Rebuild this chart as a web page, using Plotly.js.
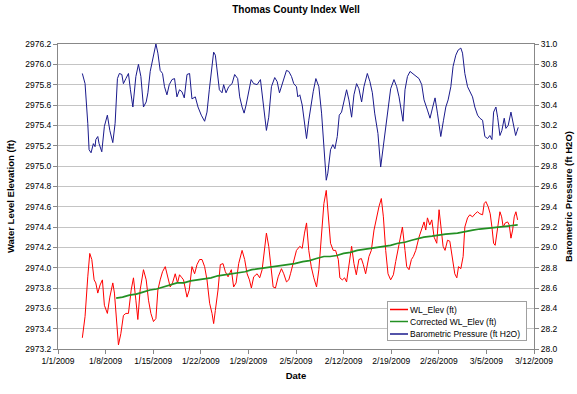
<!DOCTYPE html>
<html>
<head>
<meta charset="utf-8">
<script src="https://cdn.plot.ly/plotly-3.0.1.min.js"></script>
<style>html,body{margin:0;padding:0;background:#fff;}#chart{width:577px;height:394px;}</style>
</head>
<body>
<div id="chart"></div>
<script>
// Elapsed days since 2009-01-01 00:00 for each reading
const wlDays = [3.58,3.98,4.38,4.67,4.97,5.31,5.56,5.85,6.19,6.53,6.82,7.26,7.62,8.06,8.30,8.55,8.89,9.24,9.62,9.98,10.36,10.76,11.10,11.45,11.74,12.08,12.57,12.97,13.31,13.66,14.04,14.40,14.69,15.03,15.37,15.77,16.17,16.50,16.84,17.24,17.58,17.87,18.23,18.46,18.97,19.30,19.70,20.09,20.44,20.82,21.18,21.56,21.91,22.30,22.65,22.89,23.14,23.53,23.87,24.27,24.61,25.01,25.49,25.83,26.19,26.57,27.07,27.45,27.81,28.15,28.44,28.78,29.28,29.66,30.02,30.36,30.65,30.99,31.34,31.64,31.98,32.38,32.86,33.20,33.60,33.94,34.19,34.67,35.07,35.56,35.91,36.25,36.55,36.88,37.24,37.62,38.02,38.36,38.76,39.10,39.45,39.74,40.08,40.48,40.82,41.22,41.45,41.81,42.15,42.44,42.78,43.18,43.52,43.87,44.25,44.61,44.90,45.24,45.73,46.08,46.47,46.86,47.20,47.55,47.85,48.19,48.53,48.92,49.32,49.66,50.00,50.40,50.65,51.03,51.28,51.62,51.97,52.26,52.61,53.09,53.49,53.83,54.08,54.33,54.67,54.97,55.31,55.70,56.04,56.29,56.63,56.92,57.28,57.62,58.01,58.35,58.65,58.90,59.24,59.58,59.83,60.23,60.56,60.96,61.34,61.70,62.04,62.44,62.67,62.92,63.26,63.56,63.81,64.06,64.29,64.65,64.99,65.24,65.47,65.77,66.12,66.36,66.61,66.86,67.09,67.34,67.59];
const wlElev = [2973.31,2973.52,2973.91,2974.14,2974.08,2973.88,2973.85,2973.75,2973.83,2973.88,2973.63,2973.55,2973.71,2973.85,2973.75,2973.49,2973.24,2973.35,2973.53,2973.55,2973.55,2973.78,2973.90,2973.68,2973.49,2973.78,2973.98,2973.88,2973.68,2973.55,2973.47,2973.50,2973.78,2973.88,2973.96,2974.01,2973.91,2973.81,2973.85,2973.94,2973.85,2973.93,2973.90,2973.88,2973.71,2973.78,2974.01,2973.94,2974.03,2974.08,2974.08,2974.01,2973.88,2973.65,2973.55,2973.45,2973.58,2973.78,2974.03,2974.04,2973.96,2973.91,2973.98,2973.81,2973.85,2974.04,2974.17,2974.08,2973.94,2973.88,2973.80,2973.91,2973.94,2973.90,2973.98,2974.21,2974.34,2974.21,2973.98,2973.81,2973.80,2973.91,2973.99,2973.94,2973.86,2973.88,2973.94,2974.08,2974.17,2974.21,2974.19,2974.34,2974.44,2974.17,2974.01,2973.90,2973.81,2973.98,2974.34,2974.63,2974.76,2974.53,2974.24,2974.17,2974.17,2974.08,2973.90,2973.88,2973.90,2973.86,2974.01,2974.21,2974.04,2973.93,2974.08,2974.09,2974.03,2973.94,2974.11,2974.17,2974.37,2974.50,2974.60,2974.68,2974.50,2974.17,2973.94,2973.88,2973.93,2974.06,2974.17,2974.30,2974.40,2974.17,2974.01,2973.98,2974.08,2974.11,2974.17,2974.30,2974.37,2974.45,2974.37,2974.49,2974.42,2974.47,2974.30,2974.24,2974.57,2974.40,2974.21,2974.17,2974.27,2974.26,2974.08,2973.94,2973.90,2974.01,2973.99,2974.11,2974.40,2974.49,2974.52,2974.50,2974.53,2974.55,2974.53,2974.52,2974.63,2974.65,2974.60,2974.53,2974.40,2974.24,2974.22,2974.40,2974.55,2974.50,2974.40,2974.44,2974.45,2974.42,2974.29,2974.37,2974.50,2974.55,2974.47];

const corrDays = [8.55,9.5,10.5,11.5,12.5,13.5,14.5,15.5,16.5,17.5,18.5,19.5,20.5,21.5,22.5,23.5,24.6,25.5,26.5,27.5,28.5,29.5,30.5,31.5,32.5,33.5,34.8,36,37,38,39.1,40,41,42,43,44,45,46,47,48,48.9,50,51,52,53,53.8,55,56,57,58.75,60,61,62,63.7,65,66,67.6];
const corrElev = [2973.70,2973.71,2973.73,2973.74,2973.76,2973.78,2973.79,2973.81,2973.83,2973.85,2973.85,2973.87,2973.88,2973.89,2973.90,2973.92,2973.93,2973.94,2973.95,2973.96,2973.98,2973.99,2974.00,2974.01,2974.02,2974.03,2974.04,2974.06,2974.07,2974.09,2974.11,2974.11,2974.12,2974.14,2974.15,2974.17,2974.18,2974.19,2974.20,2974.21,2974.22,2974.24,2974.25,2974.27,2974.29,2974.30,2974.31,2974.32,2974.33,2974.34,2974.36,2974.37,2974.38,2974.39,2974.40,2974.41,2974.42];

const baroDays = [3.58,3.98,4.38,4.57,4.86,5.20,5.45,5.56,5.85,6.04,6.44,6.82,7.26,7.62,8.06,8.40,8.74,9.03,9.39,9.62,9.98,10.36,10.65,11.01,11.45,11.83,12.19,12.57,12.97,13.22,13.56,13.90,14.19,14.40,14.69,15.03,15.37,15.66,16.02,16.36,16.76,17.14,17.49,17.87,18.23,18.57,18.97,19.35,19.70,20.19,20.59,21.07,21.56,21.91,22.25,22.55,22.89,23.14,23.43,23.73,24.12,24.36,24.71,25.10,25.60,25.98,26.42,26.72,27.07,27.37,27.66,28.04,28.40,28.78,29.28,29.77,30.25,30.65,30.99,31.39,31.87,32.23,32.57,32.97,33.35,33.60,33.94,34.34,34.67,35.07,35.26,35.56,35.91,36.25,36.55,36.88,37.24,37.53,37.92,38.36,38.76,39.10,39.45,39.68,40.08,40.42,40.72,41.07,41.36,41.70,42.04,42.44,42.78,43.18,43.52,43.91,44.25,44.65,44.99,45.49,45.87,46.23,46.57,47.05,47.45,47.70,48.08,48.44,48.92,49.41,49.81,50.15,50.50,50.74,51.03,51.39,51.77,52.17,52.61,53.09,53.49,53.83,54.33,54.71,55.07,55.45,55.80,56.29,56.69,57.03,57.37,57.77,58.10,58.50,58.84,59.24,59.49,59.83,60.23,60.61,60.96,61.30,61.70,62.04,62.44,62.77,63.17,63.51,63.81,64.06,64.40,64.65,64.99,65.28,65.62,65.87,66.21,66.61,66.95,67.30,67.49,67.68];
const baroPress = [30.71,30.61,30.22,29.96,29.93,30.02,29.99,30.06,30.09,30.02,29.94,30.19,30.30,30.15,30.03,30.22,30.66,30.71,30.70,30.61,30.66,30.71,30.55,30.38,30.68,30.80,30.68,30.38,30.43,30.52,30.73,30.84,30.94,31.00,30.91,30.74,30.71,30.58,30.50,30.60,30.65,30.66,30.48,30.55,30.53,30.47,30.70,30.71,30.46,30.48,30.38,30.30,30.24,30.33,30.55,30.71,30.92,30.89,30.74,30.55,30.52,30.60,30.52,30.58,30.61,30.70,30.66,30.48,30.38,30.32,30.40,30.52,30.65,30.61,30.60,30.65,30.38,30.15,30.28,30.58,30.67,30.63,30.52,30.60,30.68,30.74,30.73,30.68,30.61,30.58,30.48,30.50,30.40,30.22,30.07,30.25,30.42,30.53,30.66,30.58,30.32,29.96,29.66,29.73,29.96,30.01,29.97,30.09,30.30,30.33,30.43,30.55,30.45,30.28,30.50,30.61,30.56,30.43,30.58,30.71,30.63,30.52,30.32,30.12,29.79,29.92,30.15,30.35,30.56,30.65,30.58,30.48,30.35,30.24,30.55,30.68,30.73,30.71,30.68,30.66,30.60,30.45,30.35,30.27,30.37,30.47,30.32,30.09,30.25,30.38,30.45,30.58,30.78,30.89,30.94,30.96,30.91,30.71,30.58,30.52,30.48,30.38,30.30,30.27,30.25,30.09,30.07,30.10,30.06,30.33,30.38,30.28,30.10,30.15,30.27,30.17,30.20,30.33,30.22,30.10,30.14,30.18];

const seriesNames = ['WL_Elev (ft)', 'Corrected WL_Elev (ft)', 'Barometric Pressure (ft H2O)'];
const seriesColors = ['#ff0000', '#239023', '#1a1a8c'];

function toDate(d) {
  const t = Date.UTC(2009, 0, 1) + d * 86400000;
  return new Date(t).toISOString().slice(0, 19).replace('T', ' ');
}

const FONT = 'Liberation Sans, Arial, sans-serif';

const traces = [
  {x: wlDays.map(toDate), y: wlElev, name: seriesNames[0], type: 'scatter', mode: 'lines',
   line: {color: seriesColors[0], width: 1}, yaxis: 'y'},
  {x: corrDays.map(toDate), y: corrElev, name: seriesNames[1], type: 'scatter', mode: 'lines',
   line: {color: seriesColors[1], width: 1.7}, yaxis: 'y'},
  {x: baroDays.map(toDate), y: baroPress, name: seriesNames[2], type: 'scatter', mode: 'lines',
   line: {color: seriesColors[2], width: 1}, yaxis: 'y2'}
];

const layout = {
  width: 577, height: 394,
  margin: {l: 58, r: 43, t: 44, b: 45},
  paper_bgcolor: '#ffffff', plot_bgcolor: '#ffffff',
  font: {family: FONT, size: 8.5, color: '#000'},
  showlegend: true,
  title: {text: '<b>Thomas County Index Well</b>', font: {family: FONT, size: 10, color: '#000'},
          x: 0.5, xref: 'paper', y: 1, yref: 'container', yanchor: 'top', pad: {t: 6}},
  xaxis: {
    type: 'date', range: ['2009-01-01', '2009-03-12'],
    tick0: '2009-01-01', dtick: 7 * 86400000, tickformat: '%-m/%-d/%Y',
    ticks: 'outside', ticklen: 4, tickcolor: '#888', showgrid: false,
    showline: true, linecolor: '#888', linewidth: 1, mirror: true,
    tickfont: {family: FONT, size: 8.5, color: '#000'},
    title: {text: '<b>Date</b>', font: {family: FONT, size: 9.5, color: '#000'}, standoff: 7},
    zeroline: false
  },
  yaxis: {
    range: [2973.2, 2976.2], tick0: 2973.2, dtick: 0.2, tickformat: '.1f',
    ticks: 'outside', ticklen: 4, tickcolor: '#888',
    showgrid: true, gridcolor: '#c4c4c4', gridwidth: 1,
    showline: true, linecolor: '#888', linewidth: 1,
    tickfont: {family: FONT, size: 8.5, color: '#000'},
    title: {text: '<b>Water Level Elevation (ft)</b>', font: {family: FONT, size: 9.5, color: '#000'}, standoff: 8},
    zeroline: false
  },
  yaxis2: {
    overlaying: 'y', side: 'right',
    range: [28.0, 31.0], tick0: 28.0, dtick: 0.2, tickformat: '.1f',
    ticks: 'outside', ticklen: 4, tickcolor: '#888',
    showgrid: false, showline: true, linecolor: '#888', linewidth: 1,
    tickfont: {family: FONT, size: 8.5, color: '#000'},
    title: {text: '<b>Barometric Pressure (ft H2O)</b>', font: {family: FONT, size: 9.5, color: '#000'}, standoff: 8},
    zeroline: false
  },
  legend: {
    x: 0.989, xanchor: 'right', y: 0.026, yanchor: 'bottom',
    bgcolor: '#ffffff', bordercolor: '#a0a0a0', borderwidth: 1,
    font: {family: FONT, size: 8.5, color: '#000'},
    tracegroupgap: 0, traceorder: 'normal'
  }
};

// Tighten the legend to the compact Excel-style box (row spacing and short line samples)
function compactLegend(gd) {
  try {
    const leg = gd.querySelector('g.legend');
    if (!leg) return;
    const boxX = 387, boxY = 301, boxW = 139, boxH = 39;
    leg.setAttribute('transform', 'translate(' + boxX + ',' + boxY + ')');
    const bg = leg.querySelector('rect.bg');
    if (bg) {
      bg.setAttribute('x', 0.5); bg.setAttribute('y', 0.5);
      bg.setAttribute('width', boxW); bg.setAttribute('height', boxH);
    }
    const sb = leg.querySelector('g.scrollbox');
    if (sb) { sb.setAttribute('transform', 'translate(0,0)'); sb.removeAttribute('clip-path'); }
    const items = Array.from(leg.querySelectorAll('g.traces'));
    const rowY = [8.5, 20.5, 33];
    items.forEach(function (g) {
      const t = g.querySelector('text.legendtext');
      const label = t ? t.textContent : '';
      let idx = seriesNames.indexOf(label);
      if (idx < 0) idx = items.indexOf(g);
      g.setAttribute('transform', 'translate(0,' + rowY[idx] + ')');
      g.querySelectorAll('path').forEach(function (p) {
        if (p.classList.contains('js-line')) {
          p.setAttribute('d', 'M3,0h18');
          p.style.stroke = seriesColors[idx];
          p.style.strokeWidth = '1.5px';
          p.style.strokeOpacity = 1;
        }
      });
      if (t) {
        t.setAttribute('x', 23);
        t.querySelectorAll('tspan').forEach(function (s) { if (s.hasAttribute('x')) s.setAttribute('x', 23); });
      }
      const tog = g.querySelector('rect.legendtoggle');
      if (tog) tog.setAttribute('height', 12);
    });
  } catch (e) { console.error(e); }
}

Plotly.newPlot('chart', traces, layout, {staticPlot: true, displayModeBar: false})
  .then(function (gd) { compactLegend(gd); });
</script>
</body>
</html>
